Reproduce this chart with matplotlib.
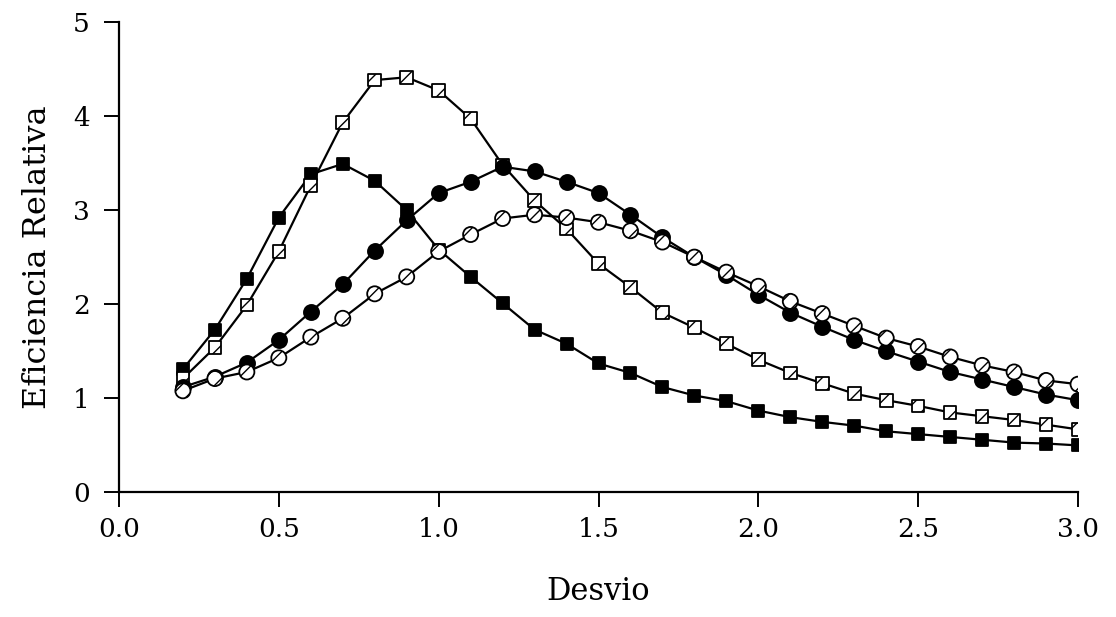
import numpy as np
import matplotlib.pyplot as plt

# Desvio (eixo x) e as quatro curvas de eficiencia relativa
desvio = [0.2, 0.3, 0.4, 0.5, 0.6, 0.7, 0.8, 0.9, 1.0, 1.1,
          1.2, 1.3, 1.4, 1.5, 1.6, 1.7, 1.8, 1.9, 2.0, 2.1,
          2.2, 2.3, 2.4, 2.5, 2.6, 2.7, 2.8, 2.9, 3.0]

quadrado_cheio = [1.31, 1.73, 2.27, 2.92, 3.38, 3.49, 3.31, 3.00, 2.58, 2.29,
                  2.01, 1.73, 1.58, 1.37, 1.27, 1.12, 1.03, 0.97, 0.87, 0.80,
                  0.75, 0.71, 0.65, 0.62, 0.59, 0.56, 0.53, 0.52, 0.50]

quadrado_aberto = [1.21, 1.54, 1.99, 2.56, 3.26, 3.93, 4.38, 4.41, 4.27, 3.97,
                   3.48, 3.10, 2.80, 2.43, 2.18, 1.91, 1.75, 1.58, 1.41, 1.27,
                   1.16, 1.05, 0.98, 0.92, 0.85, 0.81, 0.77, 0.72, 0.67]

circulo_cheio = [1.12, 1.23, 1.38, 1.62, 1.92, 2.21, 2.57, 2.89, 3.18, 3.30,
                 3.46, 3.41, 3.30, 3.18, 2.95, 2.71, 2.50, 2.31, 2.10, 1.91,
                 1.76, 1.62, 1.50, 1.39, 1.28, 1.20, 1.12, 1.04, 0.98]

circulo_aberto = [1.08, 1.21, 1.28, 1.43, 1.65, 1.85, 2.11, 2.29, 2.56, 2.74,
                  2.91, 2.95, 2.92, 2.87, 2.78, 2.66, 2.50, 2.34, 2.19, 2.03,
                  1.90, 1.77, 1.64, 1.55, 1.44, 1.35, 1.28, 1.19, 1.15]

plt.rcParams['font.family'] = ['DejaVu Serif']
plt.rcParams['hatch.linewidth'] = 1.0

fig = plt.figure(figsize=(11.16, 6.17), dpi=100)
ax = fig.add_axes([0.1066, 0.2018, 0.8594, 0.7630])

series = [
    (quadrado_cheio, 's', 'black', None, 82),
    (quadrado_aberto, 's', 'white', '//', 82),
    (circulo_cheio, 'o', 'black', None, 118),
    (circulo_aberto, 'o', 'white', '//', 118),
]

for ys, marker, face, hatch, size in series:
    ax.plot(desvio, ys, color='black', linewidth=1.6, zorder=2)
    ax.scatter(desvio, ys, marker=marker, s=size, facecolor=face,
               edgecolor='black', linewidth=1.3, hatch=hatch, zorder=3)

ax.set_xlim(0.0, 3.0)
ax.set_ylim(0, 5)
ax.set_xticks(np.arange(0, 3.01, 0.5))
ax.set_xticklabels([f"{v:.1f}" for v in np.arange(0, 3.01, 0.5)])
ax.set_yticks(range(0, 6))

for side in ['top', 'right']:
    ax.spines[side].set_visible(False)
for side in ['left', 'bottom']:
    ax.spines[side].set_linewidth(1.6)

ax.tick_params(axis='both', direction='out', length=11, width=1.4,
               labelsize=19)
ax.tick_params(axis='x', pad=7)
ax.tick_params(axis='y', pad=10)

ax.set_xlabel("Desvio", fontsize=22, labelpad=24)
ax.set_ylabel("Eficiencia Relativa", fontsize=23, labelpad=14)

fig.savefig("out.png", dpi=100)
